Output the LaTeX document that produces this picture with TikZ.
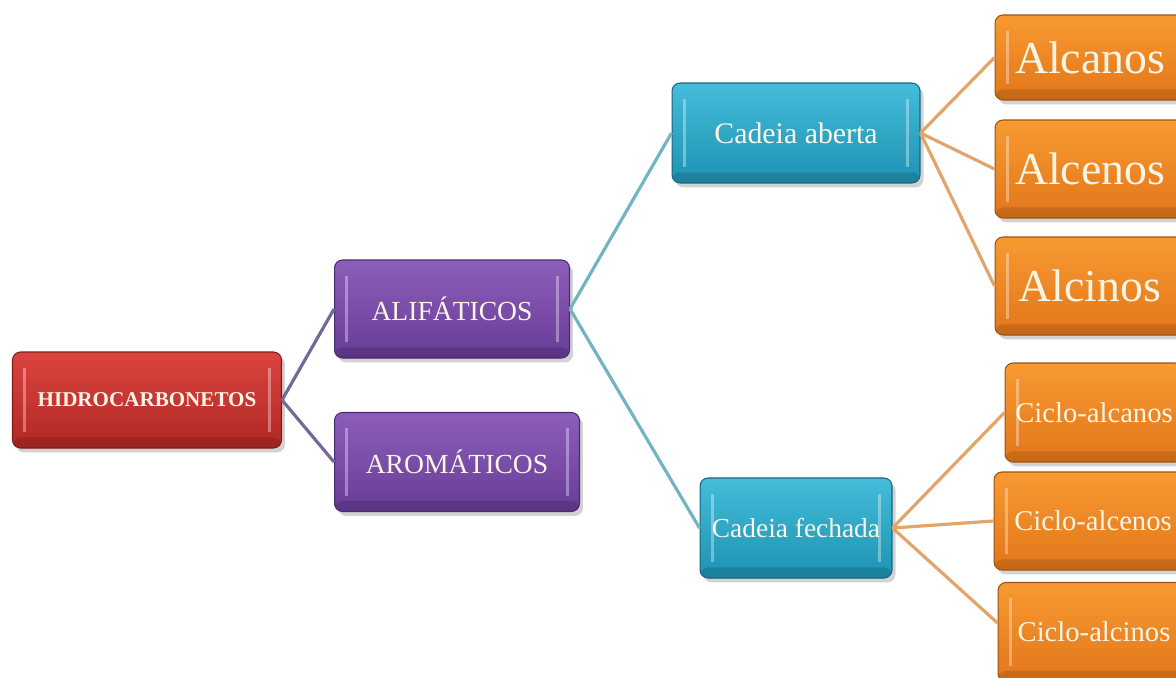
\documentclass[tikz,border=0pt]{standalone}
\usepackage{fontspec}
\setmainfont{Liberation Serif}
\usetikzlibrary{shadows}
\definecolor{redT}{HTML}{DC4440}\definecolor{redB}{HTML}{B02824}\definecolor{redD}{HTML}{7E1C18}
\definecolor{purT}{HTML}{8C5EBA}\definecolor{purB}{HTML}{673C96}\definecolor{purD}{HTML}{4A2A70}
\definecolor{tealT}{HTML}{44BCDA}\definecolor{tealB}{HTML}{1E92B2}\definecolor{tealD}{HTML}{17667E}
\definecolor{orT}{HTML}{F89A32}\definecolor{orB}{HTML}{E2761A}\definecolor{orD}{HTML}{9E5212}
\definecolor{txt}{HTML}{FBF5E6}
\definecolor{lnP}{HTML}{706A98}\definecolor{lnT}{HTML}{72B4C2}\definecolor{lnO}{HTML}{E2A468}
\tikzset{
  boxcore/.style={rounded corners=0.16cm, inner sep=0pt, align=center, text=txt, line width=0.6pt,
    drop shadow={shadow xshift=2pt, shadow yshift=-2.5pt, opacity=0.35}},
  boxbase/.style={boxcore,
    path picture={
      \draw[white,opacity=.35,line width=1.6pt] ([xshift=7pt,yshift=-9pt]path picture bounding box.north west) -- ([xshift=7pt,yshift=9pt]path picture bounding box.south west);
      \draw[white,opacity=.35,line width=1.6pt] ([xshift=-7pt,yshift=-9pt]path picture bounding box.north east) -- ([xshift=-7pt,yshift=9pt]path picture bounding box.south east);
      \fill[black,opacity=.12] ([yshift=6pt]path picture bounding box.south west) rectangle (path picture bounding box.south east);
    }},
  boxleft/.style={boxcore,
    path picture={
      \draw[white,opacity=.35,line width=1.6pt] ([xshift=7pt,yshift=-9pt]path picture bounding box.north west) -- ([xshift=7pt,yshift=9pt]path picture bounding box.south west);
      \fill[black,opacity=.12] ([yshift=6pt]path picture bounding box.south west) rectangle (path picture bounding box.south east);
    }},
  redbox/.style={boxbase, draw=redD, top color=redT, bottom color=redB},
  purbox/.style={boxbase, draw=purD, top color=purT, bottom color=purB},
  tealbox/.style={boxbase, draw=tealD, top color=tealT, bottom color=tealB},
  orbox/.style={boxleft, draw=orD, top color=orT, bottom color=orB},
  conP/.style={draw=lnP, line width=1.8pt},
  conT/.style={draw=lnT, line width=1.8pt},
  conO/.style={draw=lnO, line width=1.8pt},
}
\begin{document}
\begin{tikzpicture}[x=0.02cm,y=-0.02cm]
\useasboundingbox (0,0) rectangle (1176,677);
\clip (0,0) rectangle (1176,677);
\fill[white] (0,0) rectangle (1176,677);

\node[redbox, minimum width=5.38cm, minimum height=1.92cm] (hid) at (147,400) {\fontsize{12}{14}\selectfont\bfseries HIDROCARBONETOS};
\node[purbox, minimum width=4.70cm, minimum height=1.96cm] (ali) at (452,309) {\fontsize{15.7}{18}\selectfont ALIFÁTICOS};
\node[purbox, minimum width=4.90cm, minimum height=1.98cm] (aro) at (457,462) {\fontsize{15.7}{18}\selectfont AROMÁTICOS};
\node[tealbox, minimum width=4.96cm, minimum height=2.00cm] (ca) at (796,133) {\fontsize{17}{20}\selectfont Cadeia aberta};
\node[tealbox, minimum width=3.84cm, minimum height=2.00cm] (cf) at (796,528) {\fontsize{15.6}{18}\selectfont Cadeia fechada};

\node[orbox, minimum width=3.80cm, minimum height=1.70cm] (alcanos) at (1090,57.5) {\fontsize{26}{30}\selectfont Alcanos};
\node[orbox, minimum width=3.80cm, minimum height=1.96cm] (alcenos) at (1090,169) {\fontsize{26}{30}\selectfont Alcenos};
\node[orbox, minimum width=3.80cm, minimum height=1.96cm] (alcinos) at (1090,286) {\fontsize{26}{30}\selectfont Alcinos};
\node[orbox, minimum width=3.56cm, minimum height=1.98cm] (cialcanos) at (1094,412.5) {\fontsize{16.3}{19}\selectfont Ciclo-alcanos};
\node[orbox, minimum width=3.96cm, minimum height=1.96cm] (cialcenos) at (1093,521) {\fontsize{16.3}{19}\selectfont Ciclo-alcenos};
\node[orbox, minimum width=3.84cm, minimum height=1.98cm] (cialcinos) at (1094,632) {\fontsize{16.3}{19}\selectfont Ciclo-alcinos};

\draw[conP] (hid.east) -- (ali.west);
\draw[conP] (hid.east) -- (aro.west);
\draw[conT] (ali.east) -- (ca.west);
\draw[conT] (ali.east) -- (cf.west);
\draw[conO] (ca.east) -- (alcanos.west);
\draw[conO] (ca.east) -- (alcenos.west);
\draw[conO] (ca.east) -- (alcinos.west);
\draw[conO] (cf.east) -- (cialcanos.west);
\draw[conO] (cf.east) -- (cialcenos.west);
\draw[conO] (cf.east) -- ([yshift=0.18cm]cialcinos.west);
\end{tikzpicture}
\end{document}
